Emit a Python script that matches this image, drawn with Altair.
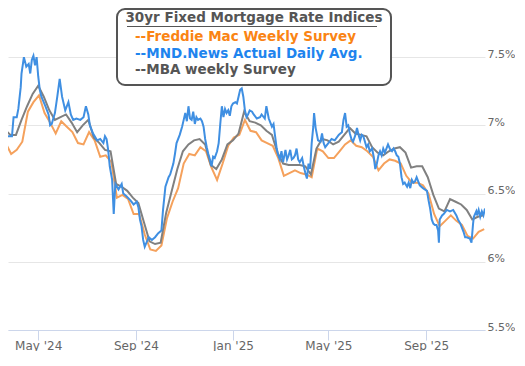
import altair as alt
import pandas as pd

# ---------------- data ----------------
title_text = "30yr Fixed Mortgage Rate Indices"
series_labels = ["--Freddie Mac Weekly Survey", "--MND.News Actual Daily Avg.", "--MBA weekly Survey"]

freddie_start = "2024-03-14"  # weekly (Thursdays)
freddie_rates = [
    6.74, 6.87, 6.79, 6.82, 6.88, 7.10, 7.17, 7.22, 7.09, 7.02,
    6.94, 7.03, 6.99, 6.95, 6.87, 6.86, 6.95, 6.89, 6.77, 6.78,
    6.73, 6.47, 6.49, 6.46, 6.35, 6.35, 6.20, 6.09, 6.08, 6.12,
    6.32, 6.44, 6.54, 6.72, 6.79, 6.78, 6.84, 6.81, 6.69, 6.60,
    6.72, 6.85, 6.91, 6.93, 7.04, 6.96, 6.95, 6.89, 6.87, 6.85,
    6.76, 6.63, 6.65, 6.67, 6.65, 6.64, 6.62, 6.83, 6.81, 6.76,
    6.76, 6.81, 6.86, 6.89, 6.85, 6.84, 6.81, 6.77, 6.67, 6.72,
    6.75, 6.74, 6.72, 6.63, 6.58, 6.58, 6.56, 6.50, 6.35, 6.26,
    6.30, 6.34, 6.30, 6.27, 6.19, 6.17, 6.22, 6.24,
]

mba_start = "2024-03-13"  # weekly (Wednesdays)
mba_rates = [
    6.87, 6.97, 6.93, 6.93, 7.04, 7.14, 7.23, 7.29, 7.21, 7.11,
    7.04, 7.06, 7.08, 7.02, 6.95, 7.00, 7.04, 6.91, 6.87, 6.82,
    6.81, 6.57, 6.55, 6.52, 6.47, 6.43, 6.29, 6.15, 6.13, 6.14,
    6.36, 6.52, 6.68, 6.81, 6.86, 6.89, 6.90, 6.86, 6.71, 6.68,
    6.75, 6.86, 6.89, 6.94, 7.10, 7.03, 7.02, 7.00, 6.96, 6.93,
    6.80, 6.72, 6.71, 6.71, 6.71, 6.70, 6.64, 6.83, 6.90, 6.89,
    6.86, 6.88, 6.93, 6.98, 6.94, 6.93, 6.92, 6.84, 6.80, 6.78,
    6.81, 6.83, 6.84, 6.80, 6.69, 6.70, 6.70, 6.62, 6.49, 6.39,
    6.37, 6.46, 6.44, 6.42, 6.38, 6.31, 6.33, 6.34,
]

mnd_dates = [
    "2024-03-14", "2024-03-16", "2024-03-17", "2024-03-20", "2024-03-22", "2024-03-29", "2024-03-31",
    "2024-04-04", "2024-04-06", "2024-04-09", "2024-04-10", "2024-04-13", "2024-04-16", "2024-04-19",
    "2024-04-21", "2024-04-23", "2024-04-25", "2024-04-27", "2024-04-29",
    "2024-05-01", "2024-05-03", "2024-05-05", "2024-05-10", "2024-05-14", "2024-05-16", "2024-05-18",
    "2024-05-22", "2024-05-25", "2024-05-28", "2024-05-31",
    "2024-06-04", "2024-06-08", "2024-06-11", "2024-06-14", "2024-06-18", "2024-06-23", "2024-06-27", "2024-06-30",
    "2024-07-03", "2024-07-05", "2024-07-09", "2024-07-14", "2024-07-18", "2024-07-22", "2024-07-24",
    "2024-07-26", "2024-07-28", "2024-07-30",
    "2024-08-02", "2024-08-04", "2024-08-06", "2024-08-10", "2024-08-14", "2024-08-16", "2024-08-20",
    "2024-08-25", "2024-08-29",
    "2024-09-02", "2024-09-04", "2024-09-06", "2024-09-08", "2024-09-10", "2024-09-12", "2024-09-17",
    "2024-09-21", "2024-09-25", "2024-09-29",
    "2024-10-03", "2024-10-05", "2024-10-08", "2024-10-12", "2024-10-14", "2024-10-16", "2024-10-18",
    "2024-10-20", "2024-10-22", "2024-10-26", "2024-10-29", "2024-10-31",
    "2024-11-02", "2024-11-04", "2024-11-06", "2024-11-08", "2024-11-10", "2024-11-12", "2024-11-14",
    "2024-11-16", "2024-11-18", "2024-11-21", "2024-11-23", "2024-11-25", "2024-11-27", "2024-11-29",
    "2024-12-01", "2024-12-03", "2024-12-05", "2024-12-07", "2024-12-09", "2024-12-12", "2024-12-14",
    "2024-12-16", "2024-12-18", "2024-12-20", "2024-12-22", "2024-12-24", "2024-12-26", "2024-12-28",
    "2024-12-30",
    "2025-01-01", "2025-01-04", "2025-01-06", "2025-01-08", "2025-01-10", "2025-01-12", "2025-01-14",
    "2025-01-16", "2025-01-18", "2025-01-20", "2025-01-22", "2025-01-25", "2025-01-27", "2025-01-31",
    "2025-02-04", "2025-02-06", "2025-02-10", "2025-02-12", "2025-02-15", "2025-02-17", "2025-02-19",
    "2025-02-21", "2025-02-23", "2025-02-25", "2025-02-27",
    "2025-03-01", "2025-03-03", "2025-03-05", "2025-03-08", "2025-03-10", "2025-03-12", "2025-03-14",
    "2025-03-16", "2025-03-18", "2025-03-20", "2025-03-22", "2025-03-24", "2025-03-26", "2025-03-29",
    "2025-03-31",
    "2025-04-02", "2025-04-04", "2025-04-06", "2025-04-08", "2025-04-10", "2025-04-12", "2025-04-13",
    "2025-04-15", "2025-04-18", "2025-04-21", "2025-04-23", "2025-04-25", "2025-04-27",
    "2025-05-01", "2025-05-05", "2025-05-09", "2025-05-14", "2025-05-16", "2025-05-18", "2025-05-20",
    "2025-05-22", "2025-05-24", "2025-05-26", "2025-05-28", "2025-05-30",
    "2025-06-01", "2025-06-04", "2025-06-06", "2025-06-08", "2025-06-10", "2025-06-12", "2025-06-14",
    "2025-06-16", "2025-06-18", "2025-06-20", "2025-06-22", "2025-06-25", "2025-06-27", "2025-06-29",
    "2025-07-01", "2025-07-03", "2025-07-05", "2025-07-07", "2025-07-09", "2025-07-11", "2025-07-13",
    "2025-07-15", "2025-07-18", "2025-07-20", "2025-07-22", "2025-07-24", "2025-07-26", "2025-07-28",
    "2025-07-30",
    "2025-08-01", "2025-08-03", "2025-08-05", "2025-08-08", "2025-08-10", "2025-08-12", "2025-08-14",
    "2025-08-16", "2025-08-18", "2025-08-20", "2025-08-22", "2025-08-24", "2025-08-28",
    "2025-09-02", "2025-09-04", "2025-09-06", "2025-09-08", "2025-09-10", "2025-09-12", "2025-09-14",
    "2025-09-16", "2025-09-17", "2025-09-18", "2025-09-21", "2025-09-23", "2025-09-27",
    "2025-10-01", "2025-10-05", "2025-10-09", "2025-10-11", "2025-10-14", "2025-10-18", "2025-10-20",
    "2025-10-22", "2025-10-26", "2025-10-28", "2025-10-30", "2025-10-31",
    "2025-11-03", "2025-11-04", "2025-11-06", "2025-11-08", "2025-11-10", "2025-11-12", "2025-11-14",
]
mnd_rates = [
    7.11, 7.04, 7.12, 6.99, 6.92, 6.92, 7.06,
    7.06, 7.12, 7.28, 7.38, 7.50, 7.43, 7.45,
    7.38, 7.48, 7.51, 7.44, 7.50,
    7.36, 7.26, 7.21, 7.14, 7.08, 7.00, 7.01,
    7.09, 7.21, 7.34, 7.21,
    7.11, 7.17, 7.08, 7.04, 7.05, 7.04, 7.06, 7.14,
    7.08, 7.00, 6.94, 6.89, 6.90, 6.87, 6.92,
    6.90, 6.82, 6.70,
    6.60, 6.35, 6.57, 6.53, 6.57, 6.50, 6.48,
    6.45, 6.42,
    6.44, 6.40, 6.31, 6.26, 6.16, 6.11, 6.18,
    6.16, 6.18, 6.21,
    6.23, 6.38, 6.55, 6.62, 6.64, 6.68, 6.72,
    6.79, 6.87, 6.93, 6.99, 7.04,
    7.09, 7.03, 7.14, 7.05, 7.04, 7.10, 7.01,
    7.06, 7.04, 7.05, 7.03, 6.99, 6.90, 6.84,
    6.79, 6.75, 6.70, 6.77, 6.76, 6.81, 6.87,
    7.01, 7.14, 7.06, 7.12, 7.09, 7.11, 7.07,
    7.14,
    7.16, 7.17, 7.16, 7.21, 7.26, 7.27, 7.21,
    7.11, 7.06, 7.08, 7.11, 7.10, 7.08, 7.05,
    7.06, 7.08, 7.05, 7.14, 7.05, 7.02, 6.99,
    7.01, 6.92, 6.83, 6.78,
    6.75, 6.81, 6.73, 6.82, 6.75, 6.78, 6.82,
    6.75, 6.76, 6.78, 6.83, 6.75, 6.73, 6.76,
    6.70,
    6.65, 6.61, 6.72, 6.68, 6.87, 6.99, 7.09,
    6.98, 6.89, 6.88, 6.94, 6.87, 6.84,
    6.87, 6.90, 6.89, 6.93, 6.94, 6.95, 7.04,
    7.09, 6.99, 7.00, 6.94, 6.90,
    6.88, 6.93, 6.98, 6.93, 6.89, 6.93, 6.92,
    6.88, 6.84, 6.86, 6.81, 6.83, 6.77, 6.68,
    6.72, 6.78, 6.81, 6.78, 6.83, 6.80, 6.83,
    6.86, 6.82, 6.81, 6.83, 6.81, 6.78, 6.77,
    6.72,
    6.62, 6.57, 6.58, 6.55, 6.58, 6.54, 6.60,
    6.58, 6.59, 6.62, 6.59, 6.56, 6.54,
    6.52, 6.45, 6.39, 6.31, 6.28, 6.27, 6.27,
    6.23, 6.14, 6.31, 6.34, 6.35, 6.38,
    6.37, 6.38, 6.34, 6.31, 6.28, 6.22, 6.18,
    6.18, 6.17, 6.14, 6.28, 6.33,
    6.37, 6.34, 6.38, 6.33, 6.37, 6.34, 6.39,
]
assert len(mnd_dates) == len(mnd_rates)

x_tick_dates = [(2024, 5, 1), (2024, 9, 1), (2025, 1, 1), (2025, 5, 1), (2025, 9, 1)]
x_domain = [(2024, 3, 24), (2025, 11, 14)]
y_ticks = [5.5, 6, 6.5, 7, 7.5]
y_domain = [5.5, 7.86]

# ---------------- styling ----------------
FONT = "DejaVu Sans"
c_freddie_line, c_mnd_line, c_mba_line = "#F5A15C", "#3F8FE2", "#808080"
c_freddie_txt, c_mnd_txt, c_mba_txt = "#FA8414", "#1E84EE", "#555555"

freddie_df = pd.DataFrame({
    "date": pd.date_range(freddie_start, periods=len(freddie_rates), freq="7D").strftime("%Y-%m-%d"),
    "rate": freddie_rates,
})
mba_df = pd.DataFrame({
    "date": pd.date_range(mba_start, periods=len(mba_rates), freq="7D").strftime("%Y-%m-%d"),
    "rate": mba_rates,
})
mnd_df = pd.DataFrame({"date": mnd_dates, "rate": mnd_rates})


def dt(t):
    return alt.DateTime(year=t[0], month=t[1], date=t[2], utc=True)


x_enc = alt.X(
    "date:T",
    scale=alt.Scale(type="utc", domain=[dt(t) for t in x_domain]),
    axis=alt.Axis(
        values=[dt(t) for t in x_tick_dates], format="%b '%y", title=None, grid=False,
        domainColor="#ccd6eb", tickColor="#ccd6eb", tickSize=10, labelPadding=0,
        labelColor="#666666", labelFontSize=12, labelFont=FONT,
    ),
)
y_enc = alt.Y(
    "rate:Q",
    scale=alt.Scale(domain=y_domain, nice=False, zero=False),
    axis=alt.Axis(
        orient="right", values=y_ticks, labelExpr="toString(datum.value) + '%'", title=None,
        domain=False, ticks=False, gridColor="#e6e6e6", labelBaseline="alphabetic",
        labelAlign="left", labelPadding=2, labelColor="#666666", labelFontSize=11, labelFont=FONT,
    ),
)

freddie_line = alt.Chart(freddie_df).mark_line(color=c_freddie_line, strokeWidth=2, clip=True).encode(x=x_enc, y=y_enc)
mba_line = alt.Chart(mba_df).mark_line(color=c_mba_line, strokeWidth=2, clip=True).encode(x=x_enc, y=y_enc)
mnd_line = alt.Chart(mnd_df).mark_line(color=c_mnd_line, strokeWidth=2, clip=True).encode(x=x_enc, y=y_enc)

one = pd.DataFrame({"k": [0]})
box = alt.Chart(one).mark_rect(
    cornerRadius=8, fill="white", stroke="#555555", strokeWidth=2
).encode(x=alt.value(109), x2=alt.value(383), y=alt.value(1), y2=alt.value(77))

title_mark = alt.Chart(one).mark_text(
    text=title_text, font=FONT, fontSize=13.5, fontWeight="bold", color="#555555",
    align="center", baseline="alphabetic",
).encode(x=alt.value(246), y=alt.value(14))

underline = alt.Chart(one).mark_rule(color="#555555", strokeWidth=1.2).encode(
    x=alt.value(119), x2=alt.value(369), y=alt.value(18.5)
)

legend_items = []
for label, col, yy in zip(series_labels, [c_freddie_txt, c_mnd_txt, c_mba_txt], [32.5, 49.5, 65.5]):
    legend_items.append(
        alt.Chart(one).mark_text(
            text=label, font=FONT, fontSize=13.5, fontWeight="bold", color=col,
            align="left", baseline="alphabetic",
        ).encode(x=alt.value(127), y=alt.value(yy))
    )

chart = alt.layer(
    freddie_line, mba_line, mnd_line, box, underline, title_mark, *legend_items
).properties(
    width=477, height=322, padding={"left": 0, "top": 0, "right": 0, "bottom": 0}
).configure_view(strokeWidth=0)

chart.save("out.html", embed_options={"renderer": "svg", "actions": False})
